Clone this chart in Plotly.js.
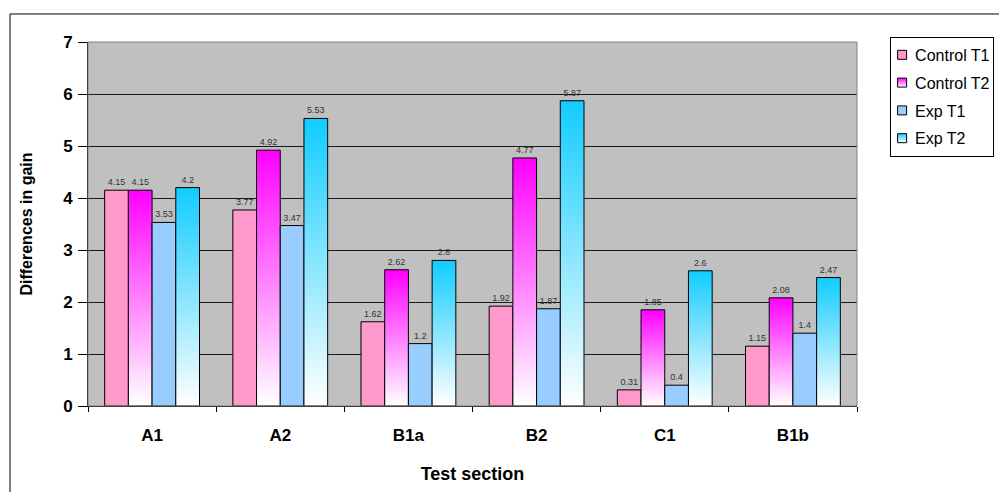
<!DOCTYPE html>
<html>
<head>
<meta charset="utf-8">
<script src="https://cdn.plot.ly/plotly-3.0.1.min.js"></script>
<style>html,body{margin:0;padding:0;background:#fff;}#chart{width:999px;height:492px;}</style>
</head>
<body>
<div id="chart"></div>
<script>
const categories = ["A1", "A2", "B1a", "B2", "C1", "B1b"];
const controlT1 = [4.15, 3.77, 1.62, 1.92, 0.31, 1.15];
const controlT2 = [4.15, 4.92, 2.62, 4.77, 1.85, 2.08];
const expT1 = [3.53, 3.47, 1.2, 1.87, 0.4, 1.4];
const expT2 = [4.2, 5.53, 2.8, 5.87, 2.6, 2.47];
const seriesNames = ["Control T1", "Control T2", "Exp T1", "Exp T2"];
const yTicks = [0, 1, 2, 3, 4, 5, 6, 7];

const seriesValues = [controlT1, controlT2, expT1, expT2];
const baseColors = ["#ff99cc", "#ff00ff", "#99ccff", "#11ccff"];

const traces = seriesValues.map((vals, i) => ({
  type: "bar",
  name: seriesNames[i],
  x: categories,
  y: vals,
  text: vals.map(v => String(v)),
  textposition: "outside",
  textfont: {family: "Arial, Liberation Sans, sans-serif", size: 9, color: "#333"},
  cliponaxis: false,
  legendgroup: "g" + i,
  marker: {color: baseColors[i], line: {color: "#000", width: 1}},
  hoverinfo: "none"
}));

const layout = {
  width: 999, height: 492,
  margin: {l: 88, r: 142, t: 42, b: 86},
  paper_bgcolor: "#fff",
  plot_bgcolor: "#c0c0c0",
  barmode: "group",
  bargap: 0.26,
  bargroupgap: 0,
  font: {family: "Arial, Liberation Sans, sans-serif", color: "#000"},
  xaxis: {
    type: "category",
    tickson: "boundaries",
    ticks: "outside", ticklen: 5, tickcolor: "#000",
    showline: true, linecolor: "#000", linewidth: 1,
    tickfont: {size: 17, weight: "bold"},
    ticklabelstandoff: 14,
    title: {text: "<b>Test section</b>", font: {size: 18}, standoff: 22},
    showgrid: false,
    automargin: false
  },
  yaxis: {
    range: [0, 7],
    tickvals: yTicks,
    ticks: "outside", ticklen: 9, tickcolor: "#000",
    showline: true, linecolor: "#000", linewidth: 1,
    gridcolor: "#1a1a1a", gridwidth: 1,
    zeroline: false,
    tickfont: {size: 17, weight: "bold"},
    ticklabelstandoff: 2,
    title: {text: "<b>Differences in gain</b>", font: {size: 16}, standoff: 26},
    automargin: false
  },
  legend: {
    xref: "container", yref: "container",
    x: 0.891, xanchor: "left", y: 0.925, yanchor: "top",
    bgcolor: "#fff", bordercolor: "#000", borderwidth: 1,
    font: {size: 16},
    tracegroupgap: 4,
    itemwidth: 30
  },
  showlegend: true,
  shapes: [
    {type: "rect", xref: "paper", yref: "paper", x0: -0.1014, x1: 1.2965, y0: -0.3, y1: 1.077,
     line: {color: "#000", width: 1}, fillcolor: "rgba(0,0,0,0)", layer: "below"},
    {type: "rect", xref: "paper", yref: "paper", x0: 0, x1: 1, y0: 0, y1: 1,
     line: {color: "#808080", width: 1}, fillcolor: "rgba(0,0,0,0)"}
  ]
};

function applyGradients(gd) {
  const svg = gd.querySelector("svg.main-svg");
  const ns = "http://www.w3.org/2000/svg";
  let defs = svg.querySelector("defs");
  if (!defs) { defs = document.createElementNS(ns, "defs"); svg.insertBefore(defs, svg.firstChild); }
  const grads = {1: ["gradCT2", "#ff00ff"], 3: ["gradET2", "#11ccff"]};
  Object.keys(grads).forEach(k => {
    const [id, col] = grads[k];
    const lg = document.createElementNS(ns, "linearGradient");
    lg.setAttribute("id", id);
    lg.setAttribute("x1", "0"); lg.setAttribute("y1", "0");
    lg.setAttribute("x2", "0"); lg.setAttribute("y2", "1");
    [[0, col], [1, "#ffffff"]].forEach(([o, c]) => {
      const s = document.createElementNS(ns, "stop");
      s.setAttribute("offset", o); s.setAttribute("stop-color", c);
      lg.appendChild(s);
    });
    defs.appendChild(lg);
  });
  const barTraces = gd.querySelectorAll("g.barlayer g.trace.bars");
  barTraces.forEach((t, i) => {
    if (grads[i]) t.querySelectorAll("path").forEach(p => { p.style.fill = "url(#" + grads[i][0] + ")"; });
  });
  // compact legend: smaller squares, text closer to symbols (as in the original)
  const shift = 16;
  const legTraces = gd.querySelectorAll("g.legend g.traces");
  legTraces.forEach((t, i) => {
    t.querySelectorAll("g.legendpoints path").forEach(p => {
      p.setAttribute("d", "M4.5,4.5H-4.5V-4.5H4.5Z");
      p.setAttribute("transform", "translate(11,0)");
      if (grads[i]) p.style.fill = "url(#" + grads[i][0] + ")";
    });
    t.querySelectorAll("text.legendtext").forEach(tx => {
      const x = parseFloat(tx.getAttribute("x") || "40");
      tx.setAttribute("x", x - shift);
      tx.querySelectorAll("tspan").forEach(ts => { if (ts.getAttribute("x")) ts.setAttribute("x", parseFloat(ts.getAttribute("x")) - shift); });
    });
  });
  const bg = gd.querySelector("g.legend rect.bg");
  if (bg) bg.setAttribute("width", parseFloat(bg.getAttribute("width")) - shift - 2);
}

Plotly.newPlot("chart", traces, layout, {staticPlot: true}).then(applyGradients);
</script>
</body>
</html>
